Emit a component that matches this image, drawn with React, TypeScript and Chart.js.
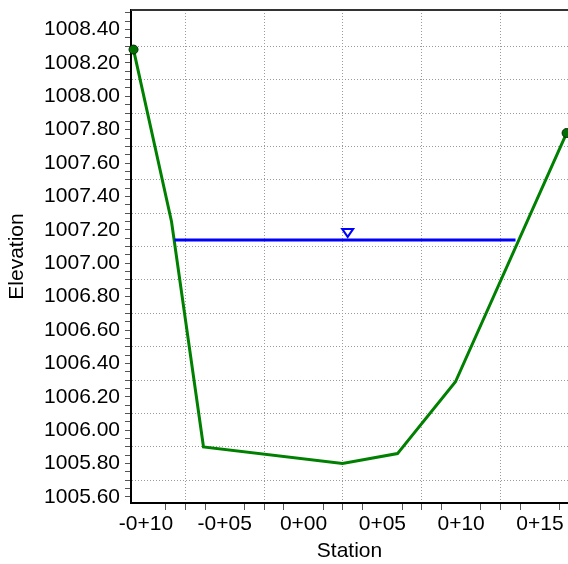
import React, { useEffect, useRef } from 'react';
import { Chart, registerables } from 'chart.js';

Chart.register(...registerables);

// ---- data ----
const groundStations = [-10.79, -8.38, -6.35, 2.47, 5.96, 9.64, 16.69];
const groundElevations = [1008.28, 1007.25, 1005.9, 1005.8, 1005.86, 1006.29, 1007.78];
const wsStations = [-8.19, 13.45];
const wsElevations = [1007.14, 1007.14];
const wsMarkerStation = 2.8;

const xLabelStations = [-10, -5, 0, 5, 10, 15];
const xTickLabels = ['-0+10', '-0+05', '0+00', '0+05', '0+10', '0+15'];
const xGridStations = [-7.5, -2.5, 2.5, 7.5, 12.5];
const xMinorStep = 1.25;
const xRange = [-10.95, 16.78];

const yLabelValues = [1005.6, 1005.8, 1006.0, 1006.2, 1006.4, 1006.6, 1006.8, 1007.0, 1007.2, 1007.4, 1007.6, 1007.8, 1008.0, 1008.2, 1008.4];
const yTickLabels = ['1005.60', '1005.80', '1006.00', '1006.20', '1006.40', '1006.60', '1006.80', '1007.00', '1007.20', '1007.40', '1007.60', '1007.80', '1008.00', '1008.20', '1008.40'];
const yGridValues = [1005.7, 1005.9, 1006.1, 1006.3, 1006.5, 1006.7, 1006.9, 1007.1, 1007.3, 1007.5, 1007.7, 1007.9, 1008.1, 1008.3];
const yMinorStep = 0.05;
const yRange = [1005.564, 1008.517];

const FONT = 'Liberation Sans, Arial, sans-serif';
const FONT_SIZE = 21;

const near = (a: number, b: number, eps = 1e-6) => Math.abs(a - b) < eps;
const findIn = (arr: number[], v: number) => arr.findIndex((a) => near(a, v));

function xTickValues() {
  const out: number[] = [];
  for (let v = xLabelStations[0]; v <= xRange[1] + 1e-9; v += xMinorStep) out.push(Math.round(v * 100) / 100);
  return out;
}
function yTickValues() {
  const out: number[] = [];
  for (let v = yLabelValues[0]; v <= yRange[1] + 1e-9; v += yMinorStep) out.push(Math.round(v * 100) / 100);
  return out;
}

const extrasPlugin = {
  id: 'extras',
  afterDatasetsDraw(chart: any) {
    const { ctx, chartArea, scales } = chart;
    ctx.save();
    ctx.strokeStyle = '#333333';
    ctx.lineWidth = 2;
    ctx.beginPath();
    ctx.moveTo(chartArea.left, chartArea.top);
    ctx.lineTo(chartArea.right, chartArea.top);
    ctx.stroke();

    const x = scales.x.getPixelForValue(wsMarkerStation);
    const y = scales.y.getPixelForValue(wsElevations[0]);
    ctx.beginPath();
    ctx.moveTo(x - 5.5, y - 11);
    ctx.lineTo(x + 5.5, y - 11);
    ctx.lineTo(x, y - 3);
    ctx.closePath();
    ctx.fillStyle = '#ffffff';
    ctx.fill();
    ctx.strokeStyle = '#0000ff';
    ctx.lineWidth = 2;
    ctx.stroke();
    ctx.restore();
  },
};

export default function App() {
  const ref = useRef<HTMLCanvasElement>(null);
  useEffect(() => {
    document.body.style.margin = '0';
    const lastIdx = groundStations.length - 1;
    const chart = new Chart(ref.current as HTMLCanvasElement, {
      type: 'line',
      data: {
        datasets: [
          {
            label: 'WS',
            data: wsStations.map((s, i) => ({ x: s, y: wsElevations[i] })),
            borderColor: '#0000ff',
            borderWidth: 3,
            pointRadius: 0,
            fill: false,
            tension: 0,
          },
          {
            label: 'Ground',
            data: groundStations.map((s, i) => ({ x: s, y: groundElevations[i] })),
            borderColor: '#008000',
            borderWidth: 3,
            pointRadius: (c: any) => (c.dataIndex === 0 || c.dataIndex === lastIdx ? 4.5 : 0),
            pointBackgroundColor: '#007000',
            pointBorderColor: '#002a00',
            pointBorderWidth: 1,
            fill: false,
            tension: 0,
            clip: false as any,
          },
        ],
      },
      options: {
        responsive: false,
        animation: false,
        devicePixelRatio: 1,
        events: [],
        layout: { autoPadding: false, padding: { top: 10, left: 0, right: 0, bottom: 0 } },
        plugins: { legend: { display: false }, tooltip: { enabled: false } },
        scales: {
          x: {
            type: 'linear',
            position: 'bottom',
            min: xRange[0],
            max: xRange[1],
            afterBuildTicks: (s: any) => {
              s.ticks = xTickValues().map((v) => ({ value: v }));
            },
            afterFit: (s: any) => {
              s.height = 61;
              s.paddingLeft = 0;
              s.paddingRight = 0;
              s.paddingTop = 0;
              s.paddingBottom = 0;
            },
            ticks: {
              autoSkip: false,
              maxRotation: 0,
              minRotation: 0,
              padding: 2,
              color: '#000000',
              font: { family: FONT, size: FONT_SIZE },
              callback: (v: any) => {
                const i = findIn(xLabelStations, Number(v));
                return i >= 0 ? xTickLabels[i] : '';
              },
            },
            grid: {
              color: (c: any) => (c.tick && findIn(xGridStations, c.tick.value) >= 0 ? '#9a9a9a' : 'transparent'),
              tickColor: (c: any) => (c.tick && findIn(xLabelStations, c.tick.value) >= 0 ? 'transparent' : '#555555'),
              lineWidth: 1,
              tickWidth: 1,
              tickLength: 7,
            },
            border: { display: true, color: '#000000', width: 2, dash: [1, 2] },
            title: {
              display: true,
              text: 'Station',
              color: '#000000',
              font: { family: FONT, size: FONT_SIZE },
              padding: { top: 0, bottom: 0 },
            },
          },
          y: {
            type: 'linear',
            position: 'left',
            min: yRange[0],
            max: yRange[1],
            afterBuildTicks: (s: any) => {
              s.ticks = yTickValues().map((v) => ({ value: v }));
            },
            afterFit: (s: any) => {
              s.width = 131;
              s.paddingLeft = 0;
              s.paddingRight = 0;
              s.paddingTop = 0;
              s.paddingBottom = 0;
            },
            ticks: {
              autoSkip: false,
              padding: 5,
              color: '#000000',
              font: { family: FONT, size: FONT_SIZE },
              callback: (v: any) => {
                const i = findIn(yLabelValues, Number(v));
                return i >= 0 ? yTickLabels[i] : '';
              },
            },
            grid: {
              color: (c: any) => (c.tick && findIn(yGridValues, c.tick.value) >= 0 ? '#9a9a9a' : 'transparent'),
              tickColor: '#555555',
              lineWidth: 1,
              tickWidth: 1,
              tickLength: 6,
            },
            border: { display: true, color: '#000000', width: 2, dash: [1, 2] },
            title: {
              display: true,
              text: 'Elevation',
              color: '#000000',
              font: { family: FONT, size: FONT_SIZE },
              padding: { top: 5, bottom: 0 },
            },
          },
        },
      } as any,
      plugins: [extrasPlugin],
    });
    return () => chart.destroy();
  }, []);

  return (
    <div style={{ width: 568, height: 564, background: '#ffffff' }}>
      <canvas ref={ref} width={568} height={564} style={{ display: 'block' }} />
    </div>
  );
}
